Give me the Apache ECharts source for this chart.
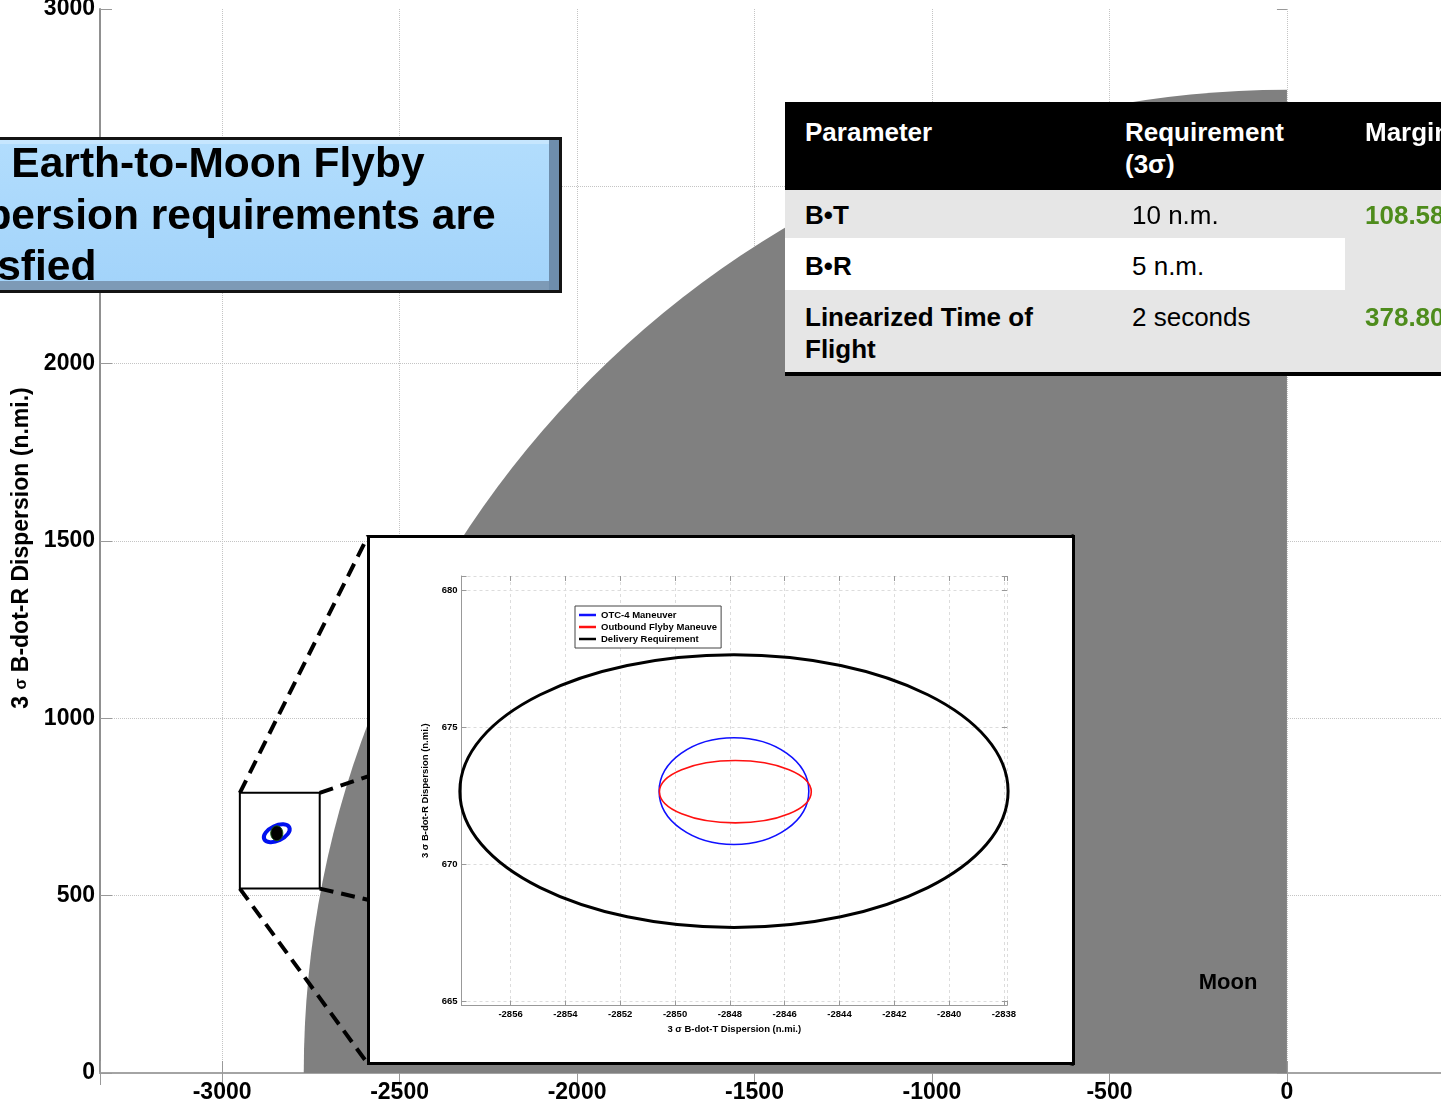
<!DOCTYPE html>
<html>
<head>
<meta charset="utf-8">
<script src="https://cdn.jsdelivr.net/npm/echarts@6/dist/echarts.min.js"></script>
<style>
  html, body { margin: 0; padding: 0; width: 1441px; height: 1104px; overflow: hidden; background: #fff; }
  body { position: relative; font-family: 'Liberation Sans', Arial, sans-serif; }
  #main { position: absolute; left: 0; top: 0; width: 1441px; height: 1104px; }
  #inset { position: absolute; left: 367px; top: 535px; width: 708px; height: 530px; box-sizing: border-box; border: 3px solid #000; background: #fff; }
  #banner { position: absolute; left: -90px; top: 137px; width: 652px; height: 156px; box-sizing: border-box; border: 3px solid #141414;
    background: linear-gradient(#b2ddfd, #a2d3fa);
    box-shadow: inset -10px 0 0 #6e8dab, inset 0 -9px 0 #7d9ab6, inset 0 4px 0 #c6e6fe; }
  #bannerText { position: absolute; left: -76px; top: 137px; font: bold 42.5px/51.5px 'Liberation Sans', Arial, sans-serif; color: #000; white-space: nowrap; }
  .cell { position: absolute; }
  .txt { position: absolute; font-size: 26px; line-height: 32px; white-space: nowrap; color: #000; }
  .b { font-weight: bold; }
  .w { color: #fff; }
  .g { color: #4e8c1c; }
</style>
</head>
<body>
<div id="main"></div>
<div id="inset"></div>

<div id="banner"></div>
<div id="bannerText">The Earth-to-Moon Flyby<br>dispersion requirements are<br>satisfied</div>

<div class="cell" style="left:785px;top:102px;width:700px;height:88px;background:#000"></div>
<div class="cell" style="left:785px;top:190px;width:700px;height:48px;background:#e6e6e6"></div>
<div class="cell" style="left:785px;top:238px;width:560px;height:52px;background:#fff"></div>
<div class="cell" style="left:1345px;top:238px;width:140px;height:52px;background:#e6e6e6"></div>
<div class="cell" style="left:785px;top:290px;width:700px;height:82px;background:#e6e6e6"></div>
<div class="cell" style="left:785px;top:372px;width:700px;height:4px;background:#000"></div>

<div class="txt b w" style="left:805px;top:116px">Parameter</div>
<div class="txt b w" style="left:1125px;top:116px">Requirement<br>(3σ)</div>
<div class="txt b w" style="left:1365px;top:116px">Margin</div>
<div class="txt b" style="left:805px;top:199px">B•T</div>
<div class="txt" style="left:1132px;top:199px">10 n.m.</div>
<div class="txt b g" style="left:1365px;top:199px">108.58</div>
<div class="txt b" style="left:805px;top:250px">B•R</div>
<div class="txt" style="left:1132px;top:250px">5 n.m.</div>
<div class="txt b" style="left:805px;top:301px">Linearized Time of<br>Flight</div>
<div class="txt" style="left:1132px;top:301px">2 seconds</div>
<div class="txt b g" style="left:1365px;top:301px">378.80</div>

<script>
// main B-plane view (n.mi.)
const mainXRange = [-3344, 434];
const mainYRange = [0, 3000];
const mainYStep = 500;
const moonDisk = [0, 0, 2770];          // centre T, centre R, radius
const moonLabel = [-166, 254, 'Moon'];
const zoomBox = [-2950, 520, -2725, 790]; // T min, R min, T max, R max
const mainRing = [-2846, 676, 39, 21, 25]; // centre T, centre R, semi T, semi R, tilt deg
const mainDot = [-2846, 676, 17, 21];

// inset view (n.mi.)
const insetXRange = [-2857.79, -2837.89];
const insetYRange = [664.84, 680.53];
const seriesNames = ['OTC-4 Maneuver', 'Outbound Flyby Maneuver', 'Delivery Requirement'];
const otc4Ellipse = [-2847.85, 672.67, 2.73, 1.95];
const outboundEllipse = [-2847.8, 672.65, 2.77, 1.14];
const deliveryEllipse = [-2847.85, 672.67, 10.0, 4.98];

const FONT = "'Liberation Sans', Arial, sans-serif";
const INSET = { left: 368, top: 536, right: 1074, bottom: 1064 };

const mainChart = echarts.init(document.getElementById('main'));
const insetChart = echarts.init(document.getElementById('inset'));

function sideAxis(base, pos, len, color) {
  return Object.assign({}, base, {
    position: pos,
    name: '',
    axisLine: { show: false },
    axisTick: { show: true, inside: true, length: len, lineStyle: { color } },
    axisLabel: { show: false },
    splitLine: { show: false },
  });
}

const mainX = {
  type: 'value', min: mainXRange[0], max: mainXRange[1], splitNumber: 8,
  axisLine: { show: true, onZero: false, lineStyle: { color: '#a4a4a4', width: 2 } },
  axisTick: { show: true, inside: true, length: 12, lineStyle: { color: '#999' } },
  axisLabel: {
    color: '#000', fontFamily: FONT, fontWeight: 'bold', fontSize: 23, margin: 8,
    formatter: (v) => (v % mainYStep === 0 ? String(v) : ''),
  },
  splitLine: { show: true, lineStyle: { type: 'dotted', color: '#c4c4c4' } },
};
const mainY = {
  type: 'value', min: mainYRange[0], max: mainYRange[1], interval: mainYStep,
  name: '3 {s|σ} B-dot-R Dispersion (n.mi.)', nameLocation: 'middle', nameGap: 59,
  nameTextStyle: {
    color: '#000', fontFamily: FONT, fontWeight: 'bold', fontSize: 23, padding: [0, 14, 0, 0],
    rich: { s: { fontSize: 16, fontWeight: 'bold', fontFamily: FONT, color: '#000' } },
  },
  axisLine: { show: true, onZero: false, lineStyle: { color: '#909090', width: 2 } },
  axisTick: { show: true, inside: true, length: 12, lineStyle: { color: '#999' } },
  axisLabel: { color: '#000', fontFamily: FONT, fontWeight: 'bold', fontSize: 23, margin: 5, formatter: (v) => String(v) },
  splitLine: { show: true, showMaxLine: false, lineStyle: { type: 'dotted', color: '#c4c4c4' } },
};

mainChart.setOption({
  animation: false,
  grid: { left: 100, right: 0, top: 9, bottom: 31, outerBoundsMode: 'none' },
  xAxis: [mainX, sideAxis(mainX, 'top', 12, '#999')],
  yAxis: [mainY, sideAxis(mainY, 'right', 10, '#999')],
  series: [
    {
      type: 'custom', silent: true, data: [moonDisk], encode: { x: 0, y: 1 },
      renderItem: (params, api) => {
        const c = api.coord([api.value(0), api.value(1)]);
        const r = api.size([api.value(2), 0])[0];
        return {
          type: 'sector',
          shape: { cx: c[0], cy: c[1], r0: 0, r, startAngle: Math.PI, endAngle: Math.PI * 1.5, clockwise: true },
          style: { fill: '#808080' },
        };
      },
    },
    {
      type: 'custom', silent: true, data: [moonLabel], encode: { x: 0, y: 1 },
      renderItem: (params, api) => {
        const c = api.coord([api.value(0), api.value(1)]);
        return {
          type: 'text', x: c[0], y: c[1],
          style: { text: moonLabel[2], fill: '#000', fontFamily: FONT, fontWeight: 'bold', fontSize: 22, align: 'center', verticalAlign: 'middle' },
        };
      },
    },
    {
      type: 'custom', silent: true, data: [zoomBox], encode: { x: [0, 2], y: [1, 3] },
      renderItem: (params, api) => {
        const tl = api.coord([api.value(0), api.value(3)]);
        const br = api.coord([api.value(2), api.value(1)]);
        const tr = [br[0], tl[1]];
        const bl = [tl[0], br[1]];
        const ends = [
          [tl, [INSET.left, INSET.top]],
          [bl, [INSET.left, INSET.bottom]],
          [tr, [INSET.right, INSET.top]],
          [br, [INSET.right, INSET.bottom]],
        ];
        const children = ends.map(([a, b]) => ({
          type: 'line',
          shape: { x1: a[0], y1: a[1], x2: b[0], y2: b[1] },
          style: { stroke: '#000', lineWidth: 4, lineDash: [14, 8] },
        }));
        children.push({
          type: 'rect',
          shape: { x: tl[0], y: tl[1], width: br[0] - tl[0], height: br[1] - tl[1] },
          style: { fill: '#fff', stroke: '#000', lineWidth: 2 },
        });
        return { type: 'group', children };
      },
    },
    {
      type: 'custom', silent: true, data: [mainRing], encode: { x: 0, y: 1 },
      renderItem: (params, api) => {
        const c = api.coord([api.value(0), api.value(1)]);
        const s = api.size([api.value(2), api.value(3)]);
        return {
          type: 'ellipse', x: c[0], y: c[1], rotation: api.value(4) * Math.PI / 180,
          shape: { cx: 0, cy: 0, rx: s[0], ry: s[1] },
          style: { fill: 'none', stroke: '#0010f0', lineWidth: 4 },
        };
      },
    },
    {
      type: 'custom', silent: true, data: [mainDot], encode: { x: 0, y: 1 },
      renderItem: (params, api) => {
        const c = api.coord([api.value(0), api.value(1)]);
        const s = api.size([api.value(2), api.value(3)]);
        return {
          type: 'ellipse',
          shape: { cx: c[0], cy: c[1], rx: s[0], ry: s[1] },
          style: { fill: '#000', stroke: '#1a5a1a', lineWidth: 1 },
        };
      },
    },
  ],
});

// inset
const insetFont = { color: '#000', fontFamily: FONT, fontWeight: 'bold', fontSize: 9.5 };
const insetX = {
  type: 'value', min: insetXRange[0], max: insetXRange[1], splitNumber: 10,
  name: '3 σ B-dot-T Dispersion (n.mi.)', nameLocation: 'middle', nameGap: 16,
  nameTextStyle: insetFont,
  axisLine: { show: true, onZero: false, lineStyle: { color: '#999', width: 1 } },
  axisTick: { show: true, inside: true, length: 5, lineStyle: { color: '#999' } },
  axisLabel: Object.assign({ margin: 4, formatter: (v) => (Math.abs(v % 2) < 1e-6 ? String(v) : '') }, insetFont),
  splitLine: { show: true, lineStyle: { type: [3, 3], color: '#dcdcdc' } },
};
const insetY = {
  type: 'value', min: insetYRange[0], max: insetYRange[1], splitNumber: 3,
  name: '3 σ B-dot-R Dispersion (n.mi.)', nameLocation: 'middle', nameGap: 21,
  nameTextStyle: insetFont,
  axisLine: { show: true, onZero: false, lineStyle: { color: '#999', width: 1 } },
  axisTick: { show: true, inside: true, length: 5, lineStyle: { color: '#999' } },
  axisLabel: Object.assign({ margin: 4, formatter: (v) => (Math.abs(v % 5) < 1e-6 ? String(v) : '') }, insetFont),
  splitLine: { show: true, lineStyle: { type: [3, 3], color: '#dcdcdc' } },
};

function ellipseSeries(name, values, color, width) {
  return {
    name, type: 'custom', silent: true, data: [values], encode: { x: 0, y: 1 },
    itemStyle: { color },
    renderItem: (params, api) => {
      const c = api.coord([api.value(0), api.value(1)]);
      const s = api.size([api.value(2), api.value(3)]);
      return {
        type: 'ellipse',
        shape: { cx: c[0], cy: c[1], rx: s[0], ry: s[1] },
        style: { fill: 'none', stroke: color, lineWidth: width },
      };
    },
  };
}

insetChart.setOption({
  animation: false,
  grid: { left: 91.5, right: 65, top: 38, bottom: 56.5, outerBoundsMode: 'none' },
  legend: {
    orient: 'vertical', left: 205, top: 68, padding: [4, 4, 4, 4], itemGap: 2,
    itemWidth: 17, itemHeight: 2.5, icon: 'rect',
    backgroundColor: '#fff', borderColor: '#444', borderWidth: 1, borderRadius: 0,
    textStyle: Object.assign({ width: 118, overflow: 'truncate', ellipsis: '' }, insetFont),
    data: seriesNames,
  },
  xAxis: [insetX, sideAxis(insetX, 'top', 5, '#999')],
  yAxis: [insetY, sideAxis(insetY, 'right', 5, '#999')],
  series: [
    ellipseSeries(seriesNames[2], deliveryEllipse, '#000', 3),
    ellipseSeries(seriesNames[0], otc4Ellipse, '#1010ff', 1.6),
    ellipseSeries(seriesNames[1], outboundEllipse, '#ff1010', 1.6),
  ],
});
</script>
</body>
</html>
